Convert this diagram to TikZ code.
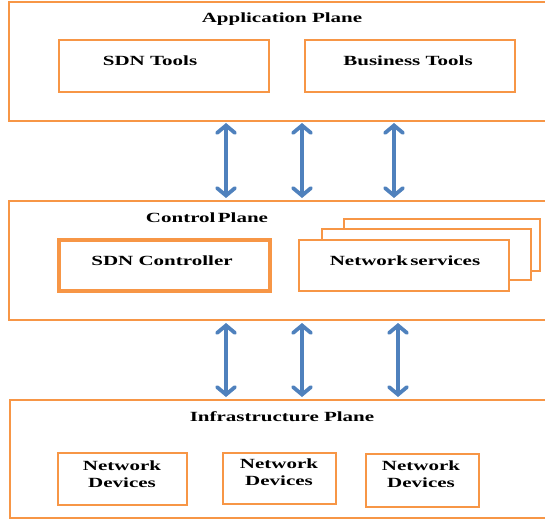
\documentclass[tikz,border=0pt]{standalone}
\usepackage{fontspec}
\setmainfont{Liberation Serif}
\newfontfamily\widefont[FakeStretch=1.5]{Liberation Serif}
\usetikzlibrary{arrows.meta}
\definecolor{planeorange}{HTML}{F79646}
\definecolor{linkblue}{HTML}{4F81BD}
\begin{document}
\begin{tikzpicture}[x=1pt,y=-1pt,
  planebox/.style={draw=planeorange,line width=2.6pt,fill=white},
  toolbox/.style={draw=planeorange,line width=2.8pt,fill=white},
  heavybox/.style={draw=planeorange,line width=4pt,fill=white},
  lbl/.style={font=\widefont\bfseries\fontsize{14}{17.5}\selectfont,align=center,inner sep=0pt},
  link/.style={draw=linkblue,line width=3.8pt,
    {Straight Barb[length=7.5pt,width=18pt,line cap=round]}-{Straight Barb[length=7.5pt,width=18pt,line cap=round]}}]
\useasboundingbox (0,0) rectangle (545,521);

% Application plane
\draw[planebox] (9,2) rectangle (560,121);
\node[lbl] (apptitle) at (282,19) {Application Plane};
\draw[toolbox] (59,40) rectangle (269,92);
\node[lbl] (sdntools) at (150,61) {SDN Tools};
\draw[toolbox] (305,40) rectangle (515,92);
\node[lbl] (biztools) at (408,61) {Business Tools};

% Control plane
\draw[planebox] (9,201) rectangle (560,320);
\node[lbl] (ctltitle) at (207,218) {Control\,Plane};
\draw[heavybox] (59,240) rectangle (270,291);
\node[lbl] (sdnctl) at (162,261) {SDN Controller};
\draw[toolbox] (344,219) rectangle (540,271);
\draw[toolbox] (322,229) rectangle (531,280);
\draw[toolbox] (299,240) rectangle (509,291);
\node[lbl] (netsvc) at (405,261) {Network\,services};

% Infrastructure plane
\draw[planebox] (10,400) rectangle (560,518);
\node[lbl] (inftitle) at (282,417) {Infrastructure Plane};
\draw[toolbox] (58,453) rectangle (187,505);
\node[lbl] (dev1) at (122,474) {Network\\Devices};
\draw[toolbox] (223,453) rectangle (336,504);
\node[lbl] (dev2) at (279,472) {Network\\Devices};
\draw[toolbox] (366,454) rectangle (479,507);
\node[lbl] (dev3) at (421,474) {Network\\Devices};

% links between the planes
\coordinate (a1) at (226,123); \coordinate (b1) at (226,198);
\coordinate (a2) at (302,123); \coordinate (b2) at (302,198);
\coordinate (a3) at (394,123); \coordinate (b3) at (394,198);
\coordinate (c1) at (226,323); \coordinate (d1) at (226,397);
\coordinate (c2) at (302,323); \coordinate (d2) at (302,397);
\coordinate (c3) at (398,323); \coordinate (d3) at (398,397);
\foreach \p/\q in {a1/b1,a2/b2,a3/b3,c1/d1,c2/d2,c3/d3}
  \draw[link] (\p) -- (\q);
\end{tikzpicture}
\end{document}
